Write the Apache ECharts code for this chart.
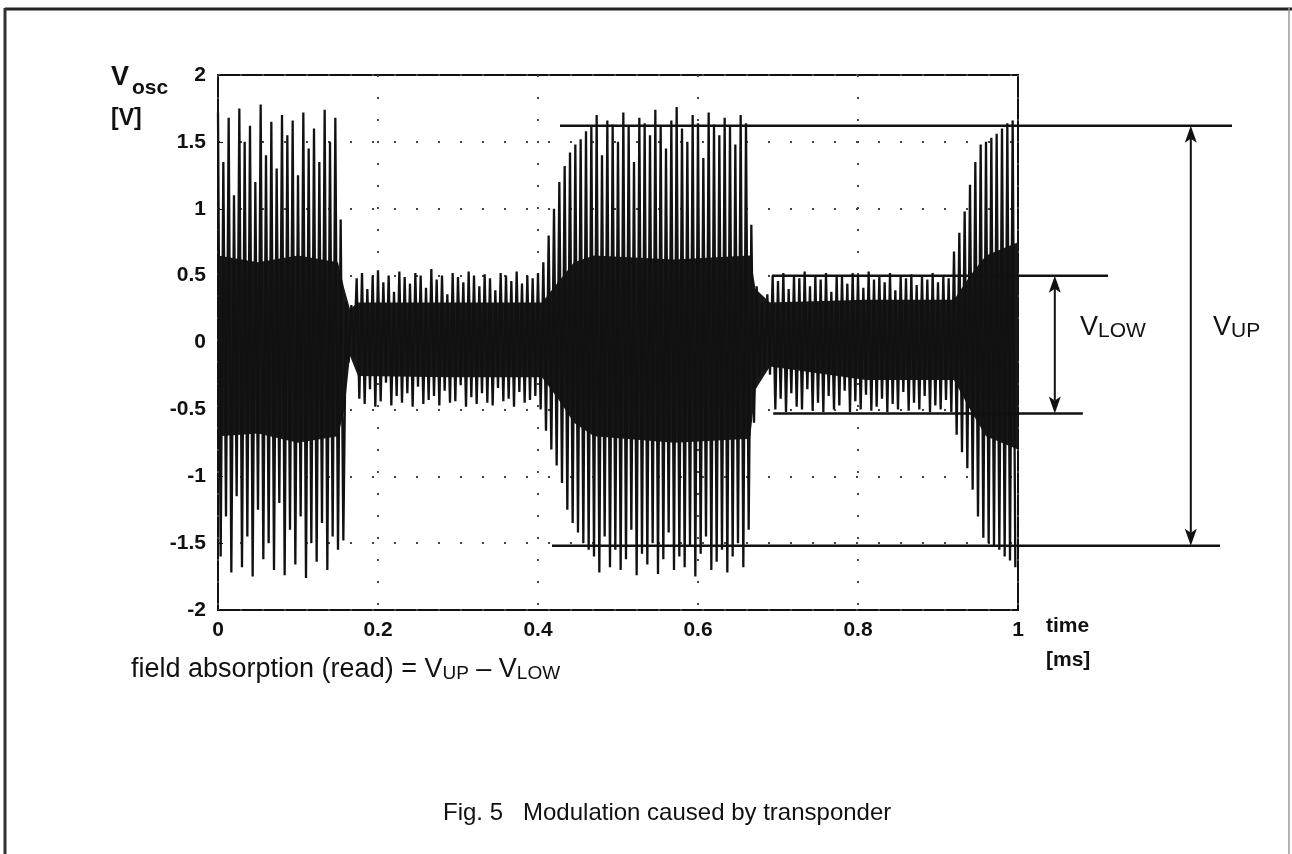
<!DOCTYPE html>
<html>
<head>
<meta charset="utf-8">
<script src="https://cdn.jsdelivr.net/npm/echarts@6/dist/echarts.min.js"></script>
<style>
  html, body { margin: 0; padding: 0; background: #fff; }
  #chart { width: 1292px; height: 854px; }
</style>
</head>
<body>
<div id="chart"></div>
<script>
// carrier peaks, one upper + one lower per plotted cycle
const CYCLE = 1 / 150 // ms
const upperPeaks = [
  1.72, 1.35, 1.68, 1.1, 1.75, 1.5, 1.62, 1.2, 1.78, 1.4, 1.65, 1.3, 1.7, 1.55, 1.66, 1.25, 1.72, 1.45, 1.6, 1.35, 1.74, 1.5, 1.68,
  0.92, 0.3, 0.28,
  0.48, 0.52, 0.4, 0.5, 0.54, 0.45, 0.5, 0.38, 0.53, 0.49, 0.44, 0.52, 0.5, 0.41, 0.55, 0.47, 0.5, 0.36,
  0.52, 0.49, 0.45, 0.53, 0.5, 0.42, 0.51, 0.48, 0.39, 0.52, 0.5, 0.46, 0.53, 0.44, 0.5, 0.48, 0.52,
  0.6, 0.8, 1.0, 1.2, 1.32, 1.42, 1.48, 1.52, 1.58,
  1.62, 1.7, 1.4, 1.66, 1.63, 1.5, 1.72, 1.62, 1.35, 1.68, 1.64, 1.55, 1.74, 1.62, 1.45,
  1.66, 1.76, 1.6, 1.5, 1.7, 1.64, 1.38, 1.72, 1.63, 1.55, 1.68, 1.62, 1.48, 1.7, 1.64,
  0.88, 0.42, 0.3, 0.36,
  0.5, 0.46, 0.52, 0.4, 0.5, 0.48, 0.53, 0.42, 0.5, 0.47, 0.52, 0.38, 0.5, 0.49, 0.44, 0.52, 0.5,
  0.41, 0.53, 0.47, 0.5, 0.45, 0.52, 0.39, 0.5, 0.48, 0.51, 0.43, 0.5, 0.47, 0.52, 0.45, 0.5, 0.48,
  0.68, 0.82, 0.98, 1.18, 1.35, 1.48, 1.5, 1.53, 1.56, 1.6, 1.64, 1.66
]
const lowerPeaks = [
  -1.6, -1.3, -1.72, -1.15, -1.68, -1.45, -1.75, -1.25, -1.62, -1.5, -1.7, -1.2, -1.74, -1.4, -1.66, -1.3, -1.76, -1.5, -1.64, -1.35, -1.7, -1.45, -1.55,
  -1.48, -0.15, -0.12,
  -0.42, -0.46, -0.35, -0.48, -0.44, -0.3, -0.47, -0.4, -0.45, -0.38, -0.48, -0.33, -0.46, -0.43, -0.4, -0.47, -0.36, -0.45,
  -0.44, -0.32, -0.48, -0.41, -0.46, -0.38, -0.45, -0.47, -0.34, -0.44, -0.42, -0.48, -0.37, -0.45, -0.43, -0.4, -0.5,
  -0.66, -0.8, -0.92, -1.05, -1.25, -1.35, -1.42, -1.5, -1.55,
  -1.6, -1.72, -1.45, -1.68, -1.55, -1.7, -1.62, -1.4, -1.74, -1.58, -1.66, -1.5, -1.73, -1.62, -1.42,
  -1.7, -1.6, -1.68, -1.52, -1.75, -1.58, -1.45, -1.7, -1.64, -1.55, -1.72, -1.6, -1.5, -1.68, -1.4,
  -0.6, -0.26, -0.2, -0.24,
  -0.5, -0.42, -0.52, -0.38, -0.48, -0.5, -0.35, -0.51, -0.45, -0.52, -0.4, -0.5, -0.47, -0.36, -0.52, -0.44, -0.5,
  -0.39, -0.51, -0.48, -0.42, -0.52, -0.46, -0.5, -0.37, -0.51, -0.45, -0.5, -0.4, -0.52, -0.47, -0.5, -0.43, -0.52,
  -0.69, -0.82, -0.94, -1.1, -1.3, -1.46, -1.5, -1.52, -1.55, -1.6, -1.63, -1.68
]

// dense dark core of the trace (where the scan is solid black)
const coreTime = [0, 0.05, 0.1, 0.15, 0.158, 0.165, 0.175, 0.29, 0.405, 0.425, 0.445,
  0.47, 0.57, 0.665, 0.672, 0.69, 0.81, 0.92, 0.94, 0.96, 1.0]
const coreUpper = [0.65, 0.6, 0.65, 0.6, 0.4, 0.25, 0.3, 0.3, 0.3, 0.45, 0.6,
  0.65, 0.62, 0.65, 0.4, 0.3, 0.32, 0.32, 0.5, 0.65, 0.75]
const coreLower = [-0.7, -0.68, -0.75, -0.7, -0.5, -0.1, -0.25, -0.26, -0.26, -0.42, -0.6,
  -0.7, -0.75, -0.72, -0.35, -0.18, -0.28, -0.28, -0.5, -0.7, -0.8]

// V_UP / V_LOW marker levels and their extents (ms)
const vUpLevels = [1.62, -1.52]
const vUpSpans = [[0.4275, 1.2675], [0.4175, 1.2525]]
const vUpArrowAt = 1.216
const vLowLevels = [0.5, -0.53]
const vLowSpans = [[0.6925, 1.1125], [0.694, 1.081]]
const vLowArrowAt = 1.046

const xTicks = { min: 0, max: 1, interval: 0.2 }
const yTicks = { min: -2, max: 2, interval: 0.5 }

const FONT = "'Liberation Sans', Arial, Helvetica, sans-serif"
const INK = '#111'

const wave = []
upperPeaks.forEach((u, i) => {
  wave.push([i * CYCLE, u], [(i + 0.5) * CYCLE, lowerPeaks[i]])
})

const chart = echarts.init(document.getElementById('chart'), null, { renderer: 'canvas' })

const axisLabel = { color: INK, fontFamily: FONT, fontWeight: 'bold', fontSize: 21 }
const dotted = { show: true, lineStyle: { color: '#444', width: 2, type: [2, 20] } }

chart.setOption({
  animation: false,
  backgroundColor: '#fff',
  grid: { left: 218, right: 274, top: 75, bottom: 244, show: true, borderColor: INK, borderWidth: 2, backgroundColor: 'transparent' },
  xAxis: {
    type: 'value', ...xTicks,
    axisLine: { show: false },
    axisTick: { show: true, inside: true, length: 5, lineStyle: { color: INK } },
    splitLine: dotted,
    axisLabel: { ...axisLabel, margin: 10, formatter: v => String(+v.toFixed(1)) },
  },
  yAxis: {
    type: 'value', ...yTicks,
    axisLine: { show: false },
    axisTick: { show: true, inside: true, length: 5, lineStyle: { color: INK } },
    splitLine: dotted,
    axisLabel: { ...axisLabel, margin: 12, formatter: v => String(+v.toFixed(1)) },
  },
  series: [
    {
      type: 'custom', silent: true, clip: true, data: [[0, 0]],
      renderItem: (params, api) => {
        const top = coreTime.map((t, i) => api.coord([t, coreUpper[i]]))
        const bottom = coreTime.map((t, i) => api.coord([t, coreLower[i]])).reverse()
        return { type: 'polygon', shape: { points: top.concat(bottom) }, style: { fill: '#181818' } }
      },
    },
    {
      type: 'line', silent: true, symbol: 'none', data: wave,
      lineStyle: { color: INK, width: 2.3 },
    },
  ],
})

// marker lines and arrows reach past the axis end, so place them through the grid's scale
const px = (x, y) => chart.convertToPixel({ gridIndex: 0 }, [x, y])

function hLine(level, span) {
  const a = px(span[0], level), b = px(span[1], level)
  return { type: 'line', silent: true, z: 10, shape: { x1: a[0], y1: a[1], x2: b[0], y2: b[1] }, style: { stroke: INK, lineWidth: 2.5 } }
}

function dimArrow(x, levels) {
  const top = px(x, levels[0]), bot = px(x, levels[1])
  const w = 6, h = 17, notch = 13
  return [
    { type: 'line', silent: true, z: 10, shape: { x1: top[0], y1: top[1] + notch, x2: bot[0], y2: bot[1] - notch }, style: { stroke: INK, lineWidth: 2 } },
    { type: 'polygon', silent: true, z: 10, shape: { points: [[top[0], top[1]], [top[0] - w, top[1] + h], [top[0], top[1] + notch], [top[0] + w, top[1] + h]] }, style: { fill: INK } },
    { type: 'polygon', silent: true, z: 10, shape: { points: [[bot[0], bot[1]], [bot[0] - w, bot[1] - h], [bot[0], bot[1] - notch], [bot[0] + w, bot[1] - h]] }, style: { fill: INK } },
  ]
}

const sub = (size) => ({ font: `${size}px ${FONT}`, fill: INK, padding: [Math.round(size * 0.4), 0, 0, 0] })

chart.setOption({
  graphic: [
    // outer figure frame
    { type: 'line', shape: { x1: 5, y1: 9, x2: 1292, y2: 9 }, style: { stroke: '#222', lineWidth: 3 } },
    { type: 'line', shape: { x1: 5, y1: 8, x2: 5, y2: 854 }, style: { stroke: '#333', lineWidth: 3 } },
    { type: 'line', shape: { x1: 1289, y1: 8, x2: 1289, y2: 854 }, style: { stroke: '#999', lineWidth: 1.5 } },

    hLine(vUpLevels[0], vUpSpans[0]),
    hLine(vUpLevels[1], vUpSpans[1]),
    hLine(vLowLevels[0], vLowSpans[0]),
    hLine(vLowLevels[1], vLowSpans[1]),
    ...dimArrow(vUpArrowAt, vUpLevels),
    ...dimArrow(vLowArrowAt, vLowLevels),

    // y-axis title
    { type: 'text', left: 111, top: 64, style: { text: 'V', font: `bold 27px ${FONT}`, fill: INK } },
    { type: 'text', left: 132, top: 78, style: { text: 'osc', font: `bold 21px ${FONT}`, fill: INK } },
    { type: 'text', left: 111, top: 107, style: { text: '[V]', font: `bold 23px ${FONT}`, fill: INK } },
    // x-axis title
    { type: 'text', left: 1046, top: 616, style: { text: 'time', font: `bold 21px ${FONT}`, fill: INK } },
    { type: 'text', left: 1046, top: 650, style: { text: '[ms]', font: `bold 21px ${FONT}`, fill: INK } },
    // level labels
    {
      type: 'text', left: 1080, top: 314,
      style: { text: '{v|V}{s|LOW}', rich: { v: { font: `27px ${FONT}`, fill: INK }, s: sub(21) } },
    },
    {
      type: 'text', left: 1213, top: 314,
      style: { text: '{v|V}{s|UP}', rich: { v: { font: `27px ${FONT}`, fill: INK }, s: sub(21) } },
    },
    // formula under the plot
    {
      type: 'text', left: 131, top: 656,
      style: {
        text: '{t|field absorption (read) = V}{s|UP}{t| \u2013 V}{s|LOW}',
        rich: { t: { font: `27px ${FONT}`, fill: INK }, s: sub(19) },
      },
    },
    // caption
    { type: 'text', left: 443, top: 801, style: { text: 'Fig. 5   Modulation caused by transponder', font: `24px ${FONT}`, fill: INK } },
  ],
})
</script>
</body>
</html>
